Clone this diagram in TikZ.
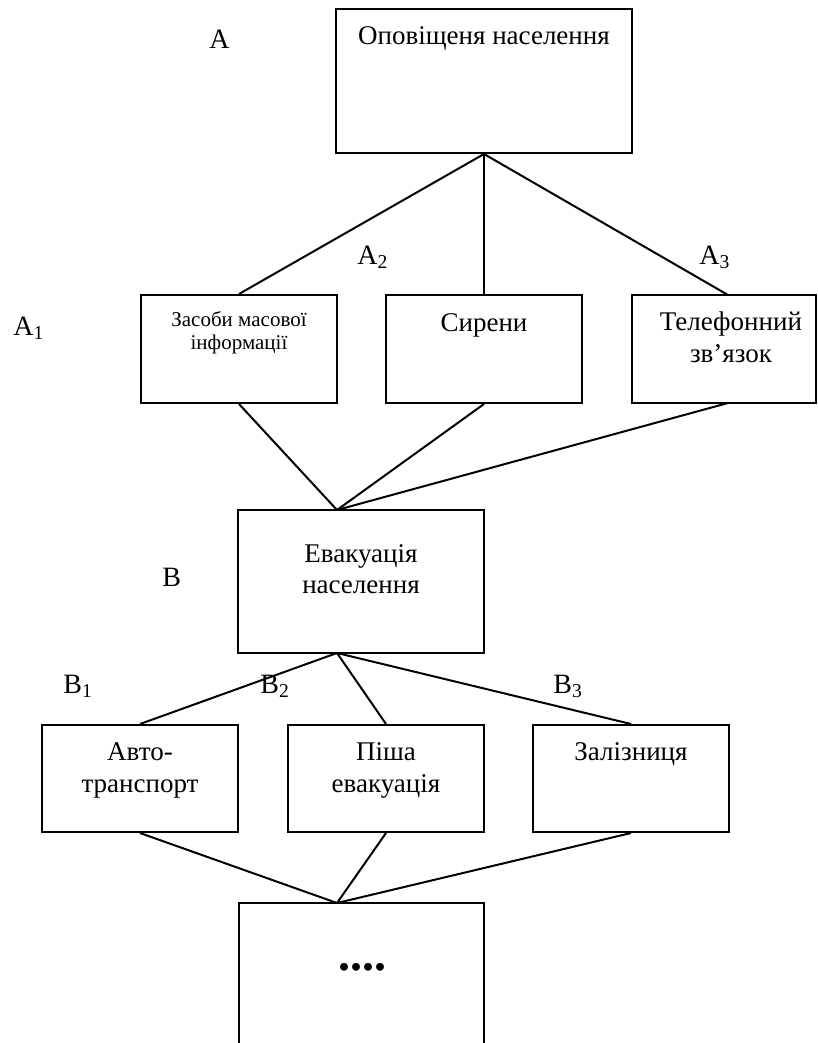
\documentclass[tikz,border=0pt]{standalone}
\usepackage{fontspec}
\setmainfont{Liberation Serif}
\tikzset{
  box/.style={draw, line width=1pt, rectangle, inner sep=0pt},
  conn/.style={line width=1pt},
  txt/.style={anchor=base, inner sep=0pt, font=\fontsize{13.5}{16}\selectfont},
  small/.style={anchor=base, inner sep=0pt, font=\fontsize{10.5}{12}\selectfont},
  lbl/.style={anchor=base west, inner sep=0pt, font=\fontsize{14}{16}\selectfont}
}
\begin{document}
\begin{tikzpicture}[x=0.5pt,y=-0.5pt]
\useasboundingbox (0,0) rectangle (818,1043);
\clip (0,0) rectangle (818,1043);
% boxes
\node[box, minimum width=148pt, minimum height=72pt] (bA) at (484,81) {};
\node[box, minimum width=98pt, minimum height=54pt] (bA1) at (239,349) {};
\node[box, minimum width=98pt, minimum height=54pt] (bA2) at (484,349) {};
\node[box, minimum width=92pt, minimum height=54pt] (bA3) at (724,349) {};
\node[box, minimum width=123pt, minimum height=71.5pt] (bB) at (361,581.5) {};
\node[box, minimum width=98pt, minimum height=53.5pt] (bB1) at (140,778.5) {};
\node[box, minimum width=98pt, minimum height=53.5pt] (bB2) at (386,778.5) {};
\node[box, minimum width=98pt, minimum height=53.5pt] (bB3) at (631,778.5) {};
\node[box, minimum width=122.5pt, minimum height=100pt] (bC) at (361.5,1003) {};
% connector points
\coordinate (a3top) at (728,295);
\coordinate (a3bot) at (728,403);
\coordinate (bBtop) at (337,510);
\coordinate (bBbot) at (337,653);
\coordinate (bCtop) at (337,903);
% connectors
\draw[conn] (bA.south) -- (bA1.north);
\draw[conn] (bA.south) -- (bA2.north);
\draw[conn] (bA.south) -- (a3top);
\draw[conn] (bA1.south) -- (bBtop);
\draw[conn] (bA2.south) -- (bBtop);
\draw[conn] (a3bot) -- (bBtop);
\draw[conn] (bBbot) -- (bB1.north);
\draw[conn] (bBbot) -- (bB2.north);
\draw[conn] (bBbot) -- (bB3.north);
\draw[conn] (bB1.south) -- (bCtop);
\draw[conn] (bB2.south) -- (bCtop);
\draw[conn] (bB3.south) -- (bCtop);
% texts
\node[txt] (tA) at (484,45) {Оповіщеня населення};
\node[small] (tA1a) at (239,326) {Засоби масової};
\node[small] (tA1b) at (239,349) {інформації};
\node[txt] (tA2) at (484,331) {Сирени};
\node[txt] (tA3a) at (731,330) {Телефонний};
\node[txt] (tA3b) at (731,362) {зв’язок};
\node[txt] (tBa) at (361,562) {Евакуація};
\node[txt] (tBb) at (361,593) {населення};
\node[txt] (tB1a) at (140,760) {Авто-};
\node[txt] (tB1b) at (140,792) {транспорт};
\node[txt] (tB2a) at (386,760) {Піша};
\node[txt] (tB2b) at (386,792) {евакуація};
\node[txt] (tB3) at (631,760) {Залізниця};
\node[anchor=base, inner sep=0pt, font=\fontsize{24}{26}\selectfont\bfseries] (tC) at (362,970) {....};
% labels
\node[lbl] (lA) at (209,49) {A};
\node[lbl] (lA1) at (13,335) {A\textsubscript{1}};
\node[lbl] (lA2) at (357,264) {A\textsubscript{2}};
\node[lbl] (lA3) at (699,264) {A\textsubscript{3}};
\node[lbl] (lB) at (162,586) {B};
\node[lbl] (lB1) at (63,693) {B\textsubscript{1}};
\node[lbl] (lB2) at (260,693) {B\textsubscript{2}};
\node[lbl] (lB3) at (553,693) {B\textsubscript{3}};
\end{tikzpicture}
\end{document}
